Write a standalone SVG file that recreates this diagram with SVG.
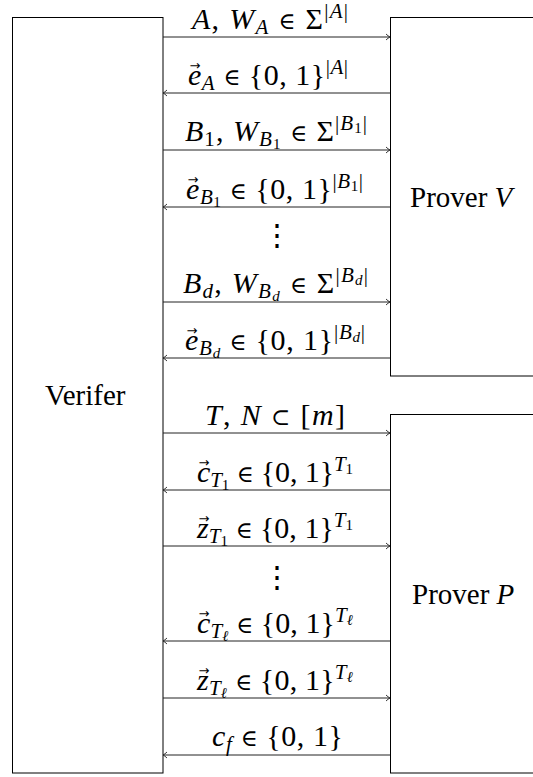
<svg xmlns="http://www.w3.org/2000/svg" width="533" height="777" viewBox="0 0 533 777" font-family="Liberation Serif, Times New Roman, serif">
<style>
text{font-family:'Liberation Serif','Times New Roman',serif;font-size:30px;fill:#000}
.n{font-size:29px}
.i{font-style:italic}
.s{font-size:21px}
.ss{font-size:15px}
.op{font-family:'DejaVu Serif',serif;font-size:23px}
.vec{font-family:'DejaVu Sans',sans-serif;font-size:13px;text-anchor:middle}
.box{fill:none;stroke:#000;stroke-width:1}
.c line{stroke:#222;stroke-width:1;fill:none}
.dots{font-family:'DejaVu Serif',serif;font-size:30px;text-anchor:middle}
</style>
<defs>
<marker id="ah" markerWidth="8" markerHeight="8" refX="4.5" refY="4" orient="auto" markerUnits="userSpaceOnUse">
<path d="M0.5,1 Q2.5,3 4.5,4 Q2.5,5 0.5,7" fill="none" stroke="#222" stroke-width="0.9"/>
</marker>
</defs>
<g id="verifier">
<rect class="box" x="12.5" y="17.5" width="150.5" height="755.5"/>
<text class="n" x="45" y="405">Verifer</text>
</g>
<g id="proverV">
<rect class="box" x="390.5" y="17.5" width="160" height="358.5"/>
<text class="n" x="410" y="207">Prover <tspan class="i">V</tspan></text>
</g>
<g id="proverP">
<rect class="box" x="390.5" y="414.5" width="160" height="358.5"/>
<text class="n" x="412" y="604">Prover <tspan class="i">P</tspan></text>
</g>
<g id="connectors" class="c">
<line x1="163" y1="37" x2="390" y2="37" marker-end="url(#ah)"/>
<line x1="390" y1="93" x2="163" y2="93" marker-end="url(#ah)"/>
<line x1="163" y1="150" x2="390" y2="150" marker-end="url(#ah)"/>
<line x1="390" y1="207" x2="163" y2="207" marker-end="url(#ah)"/>
<line x1="163" y1="302" x2="390" y2="302" marker-end="url(#ah)"/>
<line x1="390" y1="358" x2="163" y2="358" marker-end="url(#ah)"/>
<line x1="163" y1="433" x2="390" y2="433" marker-end="url(#ah)"/>
<line x1="390" y1="490" x2="163" y2="490" marker-end="url(#ah)"/>
<line x1="163" y1="546" x2="390" y2="546" marker-end="url(#ah)"/>
<line x1="390" y1="641" x2="163" y2="641" marker-end="url(#ah)"/>
<line x1="163" y1="698" x2="390" y2="698" marker-end="url(#ah)"/>
<line x1="390" y1="755" x2="163" y2="755" marker-end="url(#ah)"/>
</g>
<g id="labels">
<text x="192" y="29" textLength="156"><tspan class="i">A</tspan>, <tspan class="i">W</tspan><tspan class="i s" dy="5">A</tspan><tspan dy="-5"> </tspan><tspan class="op">∈</tspan> Σ<tspan class="s" dy="-11">|<tspan class="i">A</tspan>|</tspan></text>

<text x="188" y="85" textLength="160"><tspan class="i">e</tspan><tspan class="i s" dy="5">A</tspan><tspan dy="-5"> </tspan><tspan class="op">∈</tspan> {0, 1}<tspan class="s" dy="-11">|<tspan class="i">A</tspan>|</tspan></text>
<text class="vec" x="195" y="70">→</text>

<text x="185" y="141" textLength="182"><tspan class="i">B</tspan><tspan class="s" dy="5">1</tspan><tspan dy="-5">, </tspan><tspan class="i">W</tspan><tspan class="i s" dy="5">B</tspan><tspan class="ss" dy="3">1</tspan><tspan dy="-8"> </tspan><tspan class="op">∈</tspan> Σ<tspan class="s" dy="-11">|<tspan class="i">B</tspan></tspan><tspan class="ss" dy="3">1</tspan><tspan class="s" dy="-3">|</tspan></text>

<text x="186" y="199" textLength="177"><tspan class="i">e</tspan><tspan class="i s" dy="5">B</tspan><tspan class="ss" dy="3">1</tspan><tspan dy="-8"> </tspan><tspan class="op">∈</tspan> {0, 1}<tspan class="s" dy="-11">|<tspan class="i">B</tspan></tspan><tspan class="ss" dy="3">1</tspan><tspan class="s" dy="-3">|</tspan></text>
<text class="vec" x="193" y="184">→</text>

<text class="dots" x="277" y="245">⋮</text>

<text x="183" y="293" textLength="185"><tspan class="i">B</tspan><tspan class="i s" dy="5">d</tspan><tspan dy="-5">, </tspan><tspan class="i">W</tspan><tspan class="i s" dy="5">B</tspan><tspan class="i ss" dy="3">d</tspan><tspan dy="-8"> </tspan><tspan class="op">∈</tspan> Σ<tspan class="s" dy="-11">|<tspan class="i">B</tspan></tspan><tspan class="i ss" dy="3">d</tspan><tspan class="s" dy="-3">|</tspan></text>

<text x="185" y="350" textLength="180"><tspan class="i">e</tspan><tspan class="i s" dy="5">B</tspan><tspan class="i ss" dy="3">d</tspan><tspan dy="-8"> </tspan><tspan class="op">∈</tspan> {0, 1}<tspan class="s" dy="-11">|<tspan class="i">B</tspan></tspan><tspan class="i ss" dy="3">d</tspan><tspan class="s" dy="-3">|</tspan></text>
<text class="vec" x="192" y="335">→</text>

<text x="205" y="425" textLength="140"><tspan class="i">T</tspan>, <tspan class="i">N</tspan> <tspan class="op">⊂</tspan> [<tspan class="i">m</tspan>]</text>

<text x="197" y="482" textLength="156"><tspan class="i">c</tspan><tspan class="i s" dy="5">T</tspan><tspan class="ss" dy="3">1</tspan><tspan dy="-8"> </tspan><tspan class="op">∈</tspan> {0, 1}<tspan class="i s" dy="-11">T</tspan><tspan class="ss" dy="3">1</tspan></text>
<text class="vec" x="204" y="467">→</text>

<text x="197" y="538" textLength="156"><tspan class="i">z</tspan><tspan class="i s" dy="5">T</tspan><tspan class="ss" dy="3">1</tspan><tspan dy="-8"> </tspan><tspan class="op">∈</tspan> {0, 1}<tspan class="i s" dy="-11">T</tspan><tspan class="ss" dy="3">1</tspan></text>
<text class="vec" x="204" y="523">→</text>

<text class="dots" x="277" y="587">⋮</text>

<text x="197" y="633" textLength="156"><tspan class="i">c</tspan><tspan class="i s" dy="5">T</tspan><tspan class="i ss" dy="3">ℓ</tspan><tspan dy="-8"> </tspan><tspan class="op">∈</tspan> {0, 1}<tspan class="i s" dy="-11">T</tspan><tspan class="i ss" dy="3">ℓ</tspan></text>
<text class="vec" x="204" y="618">→</text>

<text x="197" y="690" textLength="156"><tspan class="i">z</tspan><tspan class="i s" dy="5">T</tspan><tspan class="i ss" dy="3">ℓ</tspan><tspan dy="-8"> </tspan><tspan class="op">∈</tspan> {0, 1}<tspan class="i s" dy="-11">T</tspan><tspan class="i ss" dy="3">ℓ</tspan></text>
<text class="vec" x="204" y="675">→</text>

<text x="212" y="746" textLength="131"><tspan class="i">c</tspan><tspan class="i s" dy="5">f</tspan><tspan dy="-5"> </tspan><tspan class="op">∈</tspan> {0, 1}</text>
</g>
</svg>
